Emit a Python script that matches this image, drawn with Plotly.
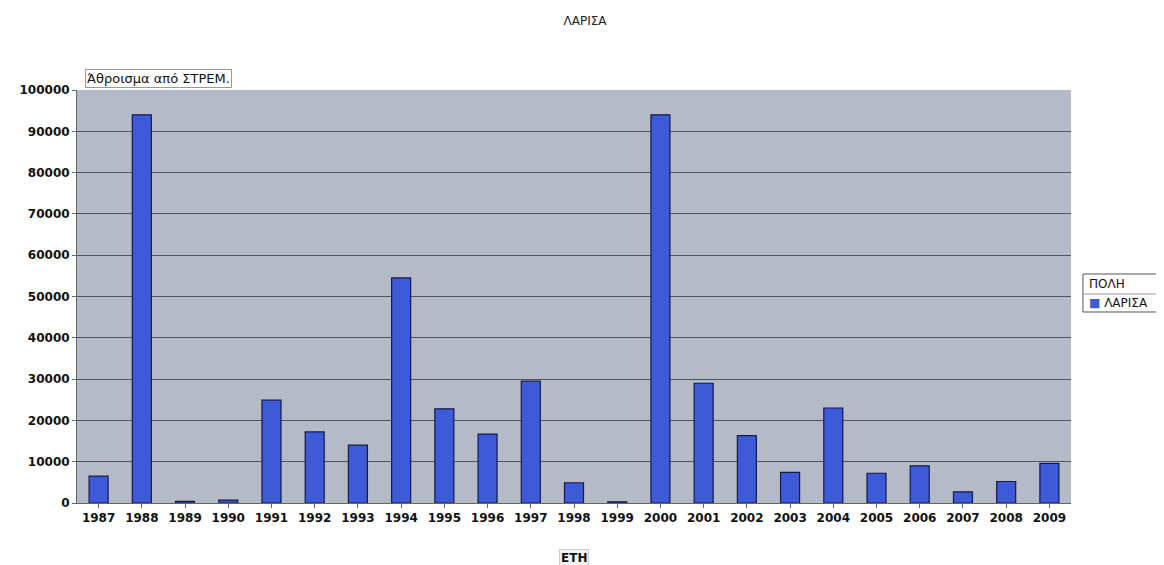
import plotly.graph_objects as go

years = ["1987","1988","1989","1990","1991","1992","1993","1994","1995","1996","1997","1998",
         "1999","2000","2001","2002","2003","2004","2005","2006","2007","2008","2009"]
values = [6500, 94000, 400, 700, 24900, 17200, 14000, 54500, 22800, 16700, 29500, 4900,
          300, 94000, 29000, 16300, 7400, 23000, 7200, 9000, 2700, 5200, 9600]
yticks = [0, 10000, 20000, 30000, 40000, 50000, 60000, 70000, 80000, 90000, 100000]
series_name = "ΛΑΡΙΣΑ"
legend_title = "ΠΟΛΗ"
bar_color = "#3d5bd9"

fig = go.Figure()
fig.add_trace(go.Bar(
    x=years, y=values, name=series_name,
    marker=dict(color=bar_color, line=dict(color="#141a4a", width=1.2)),
    width=0.44, showlegend=False,
))

font = "DejaVu Sans, Verdana, sans-serif"
fig.update_layout(
    width=1164, height=565,
    margin=dict(l=69, r=101, t=82, b=70),
    paper_bgcolor="white",
    plot_bgcolor="#b5bac7",
    font=dict(family=font, size=12, color="#111"),
    title=dict(text="ΛΑΡΙΣΑ", x=0.4957, xref="container", xanchor="center",
               y=0.977, yref="container", yanchor="middle",
               font=dict(size=12, color="#222")),
    showlegend=False,
)
fig.update_xaxes(
    type="category", showgrid=False, ticks="outside", ticklen=4,
    tickcolor="#666", linecolor="#666", showline=True,
    tickfont=dict(size=12, color="#111", weight="bold"),
)
fig.update_yaxes(
    range=[0, 100000], tickvals=yticks, ticktext=[str(v) for v in yticks],
    showgrid=True, gridcolor="#4f5462", gridwidth=1.2, zeroline=False,
    showline=True, linecolor="#666", ticks="outside", ticklen=4, tickcolor="#666",
    tickfont=dict(size=12, color="#111", weight="bold"),
)
# field label above plot
fig.add_annotation(
    text="Άθροισμα από ΣΤΡΕΜ.", xref="paper", yref="paper", x=0.008, y=1.005,
    xanchor="left", yanchor="bottom", showarrow=False,
    bordercolor="#999", borderwidth=1, bgcolor="white", borderpad=1,
    font=dict(size=13, color="#111"),
)
# axis field label
fig.add_annotation(
    text="ΕΤΗ", xref="paper", yref="paper", x=0.5, y=-0.132,
    xanchor="center", yanchor="middle", showarrow=False,
    bordercolor="#ccc", borderwidth=1, bgcolor="#f4f4f4", borderpad=1,
    font=dict(size=12, color="#111", weight="bold"),
)
# legend box (drawn)
fig.add_shape(type="rect", xref="paper", yref="paper",
              x0=1.012, x1=1.11, y0=0.4625, y1=0.5545,
              line=dict(color="#555", width=1), fillcolor="white", layer="above")
fig.add_shape(type="line", xref="paper", yref="paper",
              x0=1.012, x1=1.11, y0=0.506, y1=0.506,
              line=dict(color="#999", width=1), layer="above")
fig.add_annotation(
    text=legend_title, xref="paper", yref="paper", x=1.016, y=0.53,
    xanchor="left", yanchor="middle", showarrow=False,
    font=dict(size=12, color="#111"),
)
fig.add_annotation(
    text=f"<span style='color:{bar_color}'>■</span> {series_name}",
    xref="paper", yref="paper", x=1.016, y=0.484,
    xanchor="left", yanchor="middle", showarrow=False,
    font=dict(size=12, color="#111"),
)
fig.write_html("out.html")
